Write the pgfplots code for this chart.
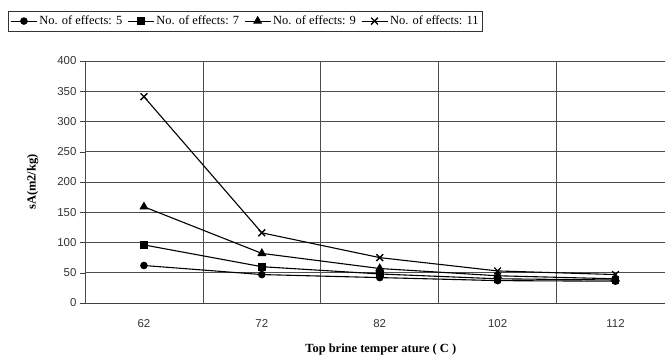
\documentclass[border=0pt]{standalone}
\usepackage{pgfplots}
\pgfplotsset{compat=1.18}
\usepackage{fontspec}
\setmainfont{Liberation Serif}
\newfontfamily\arial{Liberation Sans}
\begin{document}
\begin{tikzpicture}
\path[use as bounding box] (-85bp,-57bp) rectangle (580bp,303bp);
\begin{axis}[
  at={(0,0)}, anchor=south west,
  scale only axis, width=580bp, height=242bp,
  xmin=-0.5, xmax=4.42, ymin=0, ymax=400,
  axis x line*=bottom, axis y line*=left,
  axis line style={black!75, line width=0.8bp},
  xtick={0,1,2,3,4}, xticklabels={62,72,82,102,112},
  major x tick style={draw=none},
  extra x ticks={-0.5,0.5,1.5,2.5,3.5},
  extra x tick labels={},
  extra x tick style={grid=major, major tick length=5bp, tick style={draw=black!75}},
  ytick={0,50,...,400},
  ymajorgrids,
  major grid style={black!70, line width=0.6bp},
  tick align=outside, major tick length=5bp,
  y tick style={black!75},
  tick label style={font=\arial\fontsize{11.5}{13}\selectfont, text=black!80},
  /pgf/number format/assume math mode=true,
  xticklabel style={yshift=-8bp},
  xlabel={\bfseries Top brine temper ature ( C )},
  ylabel={\bfseries sA(m2/kg)},
  label style={font=\fontsize{12.5}{14}\selectfont},
  xlabel style={at={(axis description cs:0.51,-0.194)}, anchor=center},
  ylabel style={at={(axis description cs:-0.09,0.5)}, anchor=center},
  legend columns=4,
  legend style={at={(axis description cs:0.2767,1.165)}, anchor=center,
    font=\fontsize{12.5}{14}\selectfont, draw=black!80, line width=0.6bp,
    inner xsep=2bp, inner ysep=3bp, /tikz/every even column/.append style={column sep=3bp}},
  legend image code/.code={\draw[#1] (0bp,0bp) -- (26bp,0bp); \draw[#1, only marks] plot coordinates {(13bp,0bp)};},
  every axis plot/.append style={black, line width=1.1bp, mark options={solid, fill=black}},
]
\addplot[mark=*, mark size=3.2bp] coordinates {(0,62) (1,47) (2,42) (3,37) (4,36)};
\addlegendentry{No. of effects: 5}
\addplot[mark=square*, mark size=3.3bp] coordinates {(0,96) (1,60) (2,48) (3,40) (4,38)};
\addlegendentry{No. of effects: 7}
\addplot[mark=triangle*, mark size=4.2bp] coordinates {(0,159) (1,82) (2,57) (3,45) (4,40)};
\addlegendentry{No. of effects: 9}
\addplot[mark=x, mark size=4.8bp, mark options={line width=1.3bp}] coordinates {(0,341) (1,116) (2,75) (3,53) (4,47)};
\addlegendentry{No. of effects: 11}
\end{axis}
\end{tikzpicture}
\end{document}
